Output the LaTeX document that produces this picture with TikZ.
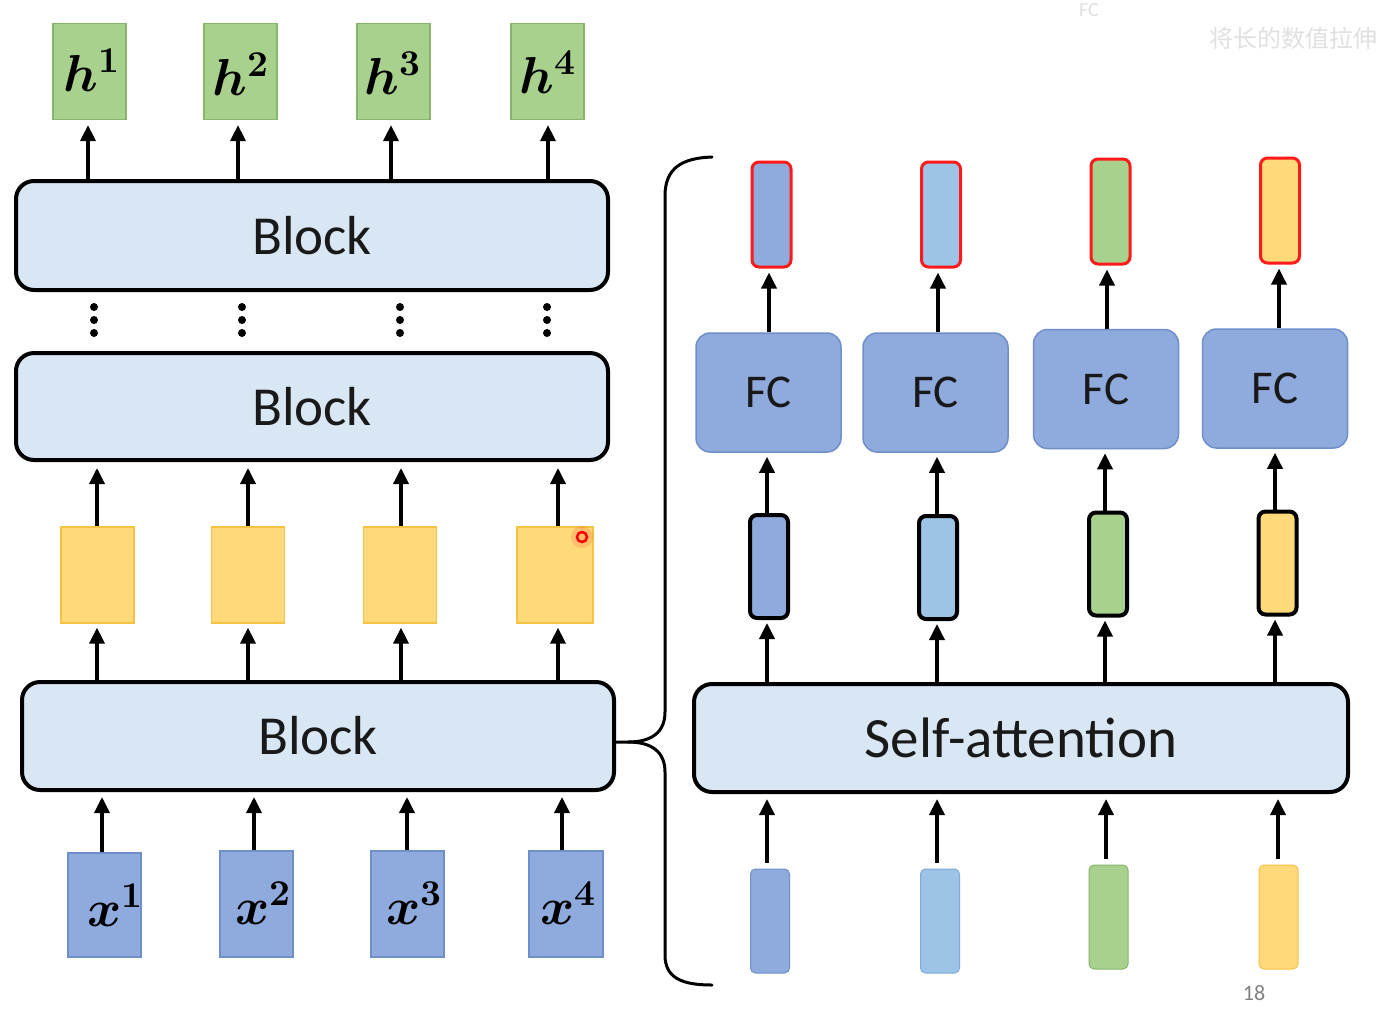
\documentclass[tikz,border=0pt]{standalone}
\usepackage{fontspec}
\usepackage{unicode-math}
\setmainfont{Carlito}
\setmathfont{Latin Modern Math}
\newfontfamily\cjk{Noto Sans CJK SC}
\usetikzlibrary{arrows.meta}
\definecolor{blockfill}{HTML}{D9E7F4}
\definecolor{cblue}{HTML}{8FAADC}
\definecolor{cblueb}{HTML}{6F8FCB}
\definecolor{clblue}{HTML}{9DC3E6}
\definecolor{clblueb}{HTML}{7FAAD6}
\definecolor{cgreen}{HTML}{A9D18E}
\definecolor{cgreenb}{HTML}{86B56B}
\definecolor{cyellow}{HTML}{FFD97A}
\definecolor{cyellowb}{HTML}{F5C242}
\definecolor{credb}{HTML}{FF1A1A}
\tikzset{
  x=1pt,y=-1pt,
  arr/.style={line width=3.5pt,-{Triangle[width=15pt,length=16pt]}},
  blockbox/.style={draw=black,line width=4pt,rounded corners=18pt,fill=blockfill,
    inner sep=0pt,text=black!90,font=\fontsize{55}{60}\selectfont},
  sqbox/.style={draw=#1b,line width=1.2pt,fill=#1,inner sep=0pt,
    minimum width=73pt,minimum height=96pt},
  fcbox/.style={draw=cblueb,line width=1.5pt,fill=cblue,rounded corners=14pt,inner sep=0pt,
    text=black!90,minimum width=145pt,minimum height=119pt,font=\fontsize{47}{50}\selectfont},
  vec/.style={draw=#1b,line width=1pt,fill=#1,rounded corners=5pt,inner sep=0pt,
    minimum width=39pt,minimum height=104pt},
  bvec/.style={draw=black,line width=4pt,fill=#1,rounded corners=7pt,inner sep=0pt,
    minimum width=38pt,minimum height=103pt},
  rvec/.style={draw=credb,line width=3pt,fill=#1,rounded corners=7pt,inner sep=0pt,
    minimum width=39pt,minimum height=105pt},
  mlab/.style={inner sep=0pt,font=\fontsize{52}{60}\selectfont},
  brace/.style={line width=3pt,line cap=round},
}
\begin{document}
\begin{tikzpicture}
\useasboundingbox[fill=white] (0,0) rectangle (1376,1013);

% watermark-like faint text
\node[text=black!12,font=\fontsize{20}{22}\selectfont] (wfc) at (1089,10) {FC};
\node[text=black!12,font=\cjk\fontsize{24}{26}\selectfont,anchor=west] (wcn) at (1206,38) {将长的数值拉伸};

% ---------- left column ----------
\node[sqbox=cgreen] (h1) at (89.5,71.5) {};
\node[sqbox=cgreen] (h2) at (240.5,71.5) {};
\node[sqbox=cgreen] (h3) at (393.5,71.5) {};
\node[sqbox=cgreen] (h4) at (547.5,71.5) {};
\node[mlab] (lh1) at (92,70) {$\symbfit{h}^{\symbf{1}}$};
\node[mlab] (lh2) at (241,74) {$\symbfit{h}^{\symbf{2}}$};
\node[mlab] (lh3) at (393,73) {$\symbfit{h}^{\symbf{3}}$};
\node[mlab] (lh4) at (548,72) {$\symbfit{h}^{\symbf{4}}$};

\node[blockbox,minimum width=592pt,minimum height=109pt] (b1) at (312,235.5) {Block};
\node[blockbox,minimum width=592pt,minimum height=107pt] (b2) at (312,406.5) {Block};
\node[blockbox,minimum width=592pt,minimum height=108pt] (b3) at (318,736) {Block};

\foreach \x in {94,242,400,547}{
  \fill (\x,307) circle (4pt); \fill (\x,320) circle (4pt); \fill (\x,333) circle (4pt);
}

\node[sqbox=cyellow] (y1) at (97.5,575) {};
\node[sqbox=cyellow] (y2) at (248,575) {};
\node[sqbox=cyellow] (y3) at (400,575) {};
\node[sqbox=cyellow,minimum width=76pt] (y4) at (555,575) {};

\node[sqbox=cblue,minimum height=104pt] (x1) at (104.5,905) {};
\node[sqbox=cblue,minimum height=106pt] (x2) at (256.5,904) {};
\node[sqbox=cblue,minimum height=106pt] (x3) at (407.5,904) {};
\node[sqbox=cblue,minimum width=74pt,minimum height=106pt] (x4) at (566,904) {};
\node[mlab] (lx1) at (115,905) {$\symbfit{x}^{\symbf{1}}$};
\node[mlab] (lx2) at (263,903) {$\symbfit{x}^{\symbf{2}}$};
\node[mlab] (lx3) at (414,903) {$\symbfit{x}^{\symbf{3}}$};
\node[mlab] (lx4) at (568,903) {$\symbfit{x}^{\symbf{4}}$};

% arrows left column
\foreach \i/\xx in {1/88,2/238,3/391,4/548}{
  \draw[arr,shorten >=5pt] (\xx,0 |- b1.north) -- (\xx,0 |- h\i.south);
}
\foreach \i/\xx in {1/97,2/248,3/401,4/558}{
  \draw[arr,shorten >=6pt] (\xx,0 |- y\i.north) -- (\xx,0 |- b2.south);
  \draw[arr,shorten >=4pt] (\xx,0 |- b3.north) -- (\xx,0 |- y\i.south);
}
\foreach \i/\xx in {1/102,2/254,3/407,4/562}{
  \draw[arr,shorten >=5pt] (\xx,0 |- x\i.north) -- (\xx,0 |- b3.south);
}

% cursor mark
\fill[red,opacity=0.12] (582,537) circle (11pt);
\draw[red,line width=2.5pt] (582,537) circle (5pt);

% ---------- brace ----------
\coordinate (bt) at (712,157);
\coordinate (bb) at (712,985);
\coordinate (btip) at (628,742);
\draw[brace] (bt) .. controls (682,158) and (665,168) .. (665,196) -- (665,712)
  .. controls (665,732) and (652,742) .. (btip) -- (b3.east |- btip);
\draw[brace] (btip) .. controls (652,742) and (665,752) .. (665,772) -- (665,955)
  .. controls (665,978) and (682,985) .. (bb);

% ---------- right column ----------
\node[blockbox,minimum width=654pt,minimum height=108pt,font=\fontsize{57}{60}\selectfont] (sa) at (1021,738) {Self-attention};

\node[vec=cblue] (i1) at (770,921) {};
\node[vec=clblue] (i2) at (940,921) {};
\node[vec=cgreen] (i3) at (1108.5,917) {};
\node[vec=cyellow] (i4) at (1278.5,917) {};

\node[bvec=cblue] (m1) at (769,566.5) {};
\node[bvec=clblue] (m2) at (938,567.5) {};
\node[bvec=cgreen] (m3) at (1108,564) {};
\node[bvec=cyellow] (m4) at (1277.5,563) {};

\node[fcbox] (f1) at (768.5,392.5) {FC};
\node[fcbox] (f2) at (935.5,392.5) {FC};
\node[fcbox] (f3) at (1106,389) {FC};
\node[fcbox] (f4) at (1275,388.5) {FC};

\node[rvec=cblue] (o1) at (771.5,214.5) {};
\node[rvec=clblue] (o2) at (941,214.5) {};
\node[rvec=cgreen] (o3) at (1110.5,211.5) {};
\node[rvec=cyellow] (o4) at (1280,210.5) {};

\foreach \i/\xx in {1/767,2/937,3/1106,4/1278}{
  \draw[arr,shorten <=6pt,shorten >=5pt] (\xx,0 |- i\i.north) -- (\xx,0 |- sa.south);
}
\foreach \i/\xx in {1/767,2/937,3/1105,4/1275}{
  \draw[arr,shorten >=3pt] (\xx,0 |- sa.north) -- (\xx,0 |- m\i.south);
  \draw[arr,shorten >=4pt] (\xx,0 |- m\i.north) -- (\xx,0 |- f\i.south);
}
\foreach \i/\xx in {1/769,2/938,3/1107,4/1279}{
  \draw[arr,shorten >=4pt] (\xx,0 |- f\i.north) -- (\xx,0 |- o\i.south);
}

\node[text=black!50,font=\fontsize{22}{24}\selectfont] (pg) at (1254,993) {18};
\end{tikzpicture}
\end{document}
